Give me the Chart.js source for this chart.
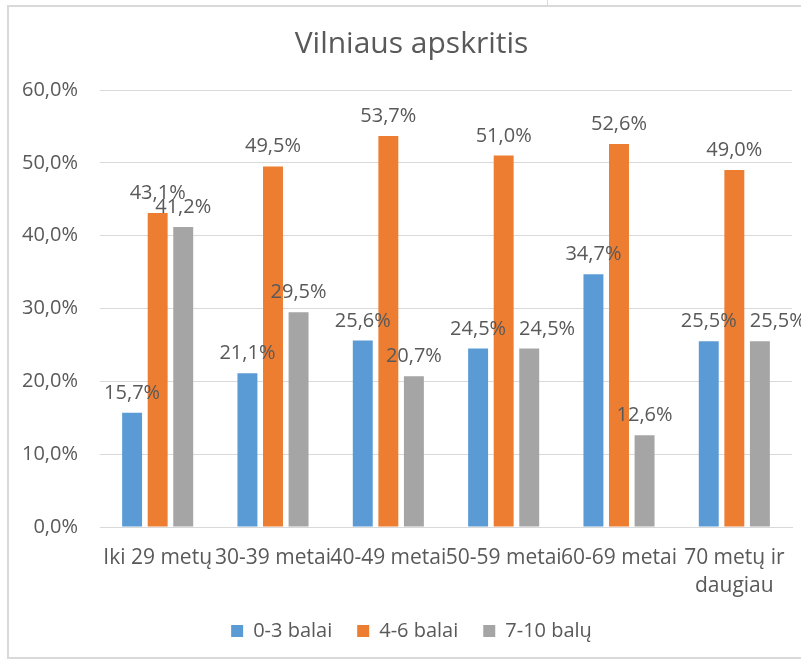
<!DOCTYPE html>
<html>
<head>
<meta charset="utf-8">
<script src="https://cdn.jsdelivr.net/npm/chart.js@4"></script>
<style>
  html, body { margin: 0; padding: 0; background: #ffffff; }
  #wrap { position: relative; width: 801px; height: 662px; overflow: hidden; }
  #c { position: absolute; left: 0; top: 0; }
  .ln { position: absolute; background: #d9d9d9; }
</style>
</head>
<body>
<div id="wrap">
  <canvas id="c" width="801" height="662"></canvas>
  <div class="ln" style="left:8px; top:5px; width:793px; height:2px;"></div>
  <div class="ln" style="left:547px; top:0px; width:1px; height:6px;"></div>
  <div class="ln" style="left:7px; top:5px; width:2px; height:654px;"></div>
  <div class="ln" style="left:8px; top:657px; width:793px; height:2px;"></div>
</div>
<script>
const chartTitle = 'Vilniaus apskritis';
const categories = ['Iki 29 metų', '30-39 metai', '40-49 metai', '50-59 metai', '60-69 metai', ['70 metų ir', 'daugiau']];
const seriesNames = ['0-3 balai', '4-6 balai', '7-10 balų'];
const series03 = [15.7, 21.1, 25.6, 24.5, 34.7, 25.5];
const series46 = [43.1, 49.5, 53.7, 51.0, 52.6, 49.0];
const series710 = [41.2, 29.5, 20.7, 24.5, 12.6, 25.5];
const yTickValues = [0, 10, 20, 30, 40, 50, 60];
const seriesColors = ['#5b9bd5', '#ed7d31', '#a5a5a5'];

const fmt = v => v.toFixed(1).replace('.', ',') + '%';
const FONT = "'Open Sans', sans-serif";
const TEXT = '#595959';

const dataLabels = {
  id: 'dataLabels',
  afterLayout(chart) {
    // let axis labels overflow their boxes instead of being clipped
    chart.scales.y.left = 0;
    chart.scales.x.bottom = chart.height;
  },
  afterDatasetsDraw(chart) {
    const ctx = chart.ctx;
    ctx.save();
    ctx.font = "20px " + FONT;
    ctx.fillStyle = TEXT;
    ctx.textAlign = 'left';
    ctx.textBaseline = 'alphabetic';
    const H = 15, GAP = 13;
    const n = chart.data.labels.length;
    for (let i = 0; i < n; i++) {
      const placed = [];
      chart.data.datasets.forEach((ds, di) => {
        const el = chart.getDatasetMeta(di).data[i];
        const txt = fmt(ds.data[i]);
        const w = ctx.measureText(txt).width;
        const base = el.y - 14;
        let left = el.x - w / 2;
        placed.forEach(p => {
          const vOverlap = Math.min(base, p.base) - Math.max(base - H, p.base - H);
          if (vOverlap > H / 2 && left < p.right + GAP && left + w > p.left) {
            left = p.right + GAP;
          }
        });
        ctx.fillText(txt, left, base);
        placed.push({ left: left, right: left + w, base: base });
      });
    }
    ctx.restore();
  }
};

const allSeries = [series03, series46, series710];

new Chart(document.getElementById('c'), {
  type: 'bar',
  data: {
    labels: categories,
    datasets: allSeries.map((d, i) => ({
      label: seriesNames[i],
      data: d,
      backgroundColor: seriesColors[i],
      borderWidth: 0,
      categoryPercentage: 0.665,
      barPercentage: 0.78
    }))
  },
  options: {
    responsive: false,
    animation: false,
    devicePixelRatio: 1,
    layout: { padding: { left: 31, right: 9, top: 0, bottom: 11 } },
    plugins: {
      title: {
        display: true,
        text: chartTitle,
        color: TEXT,
        font: { family: FONT, size: 30, weight: 'normal' },
        padding: { top: 26, bottom: 28 }
      },
      legend: {
        position: 'bottom',
        labels: {
          color: TEXT,
          font: { family: FONT, size: 20 },
          boxWidth: 12,
          boxHeight: 12,
          padding: 25
        }
      },
      tooltip: { enabled: false }
    },
    scales: {
      x: {
        grid: { display: false },
        border: { display: true, color: '#d9d9d9' },
        ticks: {
          color: TEXT,
          font: { family: FONT, size: 21, lineHeight: 1.33 },
          autoSkip: false,
          maxRotation: 0,
          minRotation: 0,
          padding: 9
        },
        afterFit(s) { s.height = 69; }
      },
      y: {
        min: 0,
        max: 60,
        afterBuildTicks(s) { s.ticks = yTickValues.map(v => ({ value: v })); },
        grid: { color: '#d9d9d9', lineWidth: 1, drawTicks: false },
        border: { display: false },
        ticks: {
          color: TEXT,
          font: { family: FONT, size: 20 },
          padding: 22,
          callback: v => fmt(v)
        },
        afterFit(s) { s.width = 69; }
      }
    }
  },
  plugins: [dataLabels]
});
</script>
</body>
</html>
